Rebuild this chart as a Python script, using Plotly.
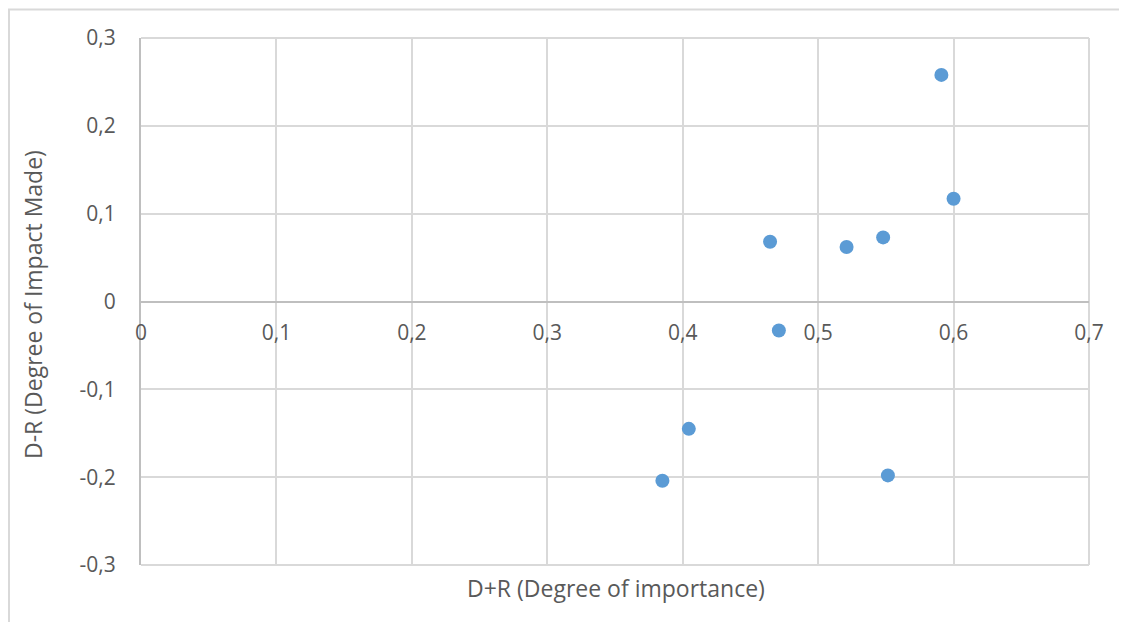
import plotly.graph_objects as go

# Data
dr_importance = [0.591, 0.600, 0.4645, 0.521, 0.548, 0.471, 0.4045, 0.385, 0.5515]
dr_impact = [0.258, 0.117, 0.068, 0.062, 0.073, -0.033, -0.145, -0.204, -0.198]

x_tickvals = [0, 0.1, 0.2, 0.3, 0.4, 0.5, 0.6, 0.7]
x_ticktext = ["0", "0,1", "0,2", "0,3", "0,4", "0,5", "0,6", "0,7"]
y_tickvals = [-0.3, -0.2, -0.1, 0, 0.1, 0.2, 0.3]
y_ticktext = ["-0,3", "-0,2", "-0,1", "0", "0,1", "0,2", "0,3"]

x_title = "D+R (Degree of importance)"
y_title = "D-R (Degree of Impact Made)"

FONT = "Open Sans"
TXT = "#595959"
GRID = "#D9D9D9"
AXIS = "#BFBFBF"

fig = go.Figure()
fig.add_trace(go.Scatter(
    x=dr_importance, y=dr_impact, mode="markers",
    marker=dict(size=14, color="#5B9BD5", line=dict(width=0)),
    showlegend=False, hoverinfo="x+y",
))

# The page body adds an 8px offset; target page coordinates are converted.
OFF = 8
W, H = 1111, 614
L, T = 141 - OFF, 38 - OFF
pw, ph = 1089 - 141, 565 - 38
R = W - L - pw
B = H - T - ph

def px_x(p):
    return (p - OFF - L) / pw

def px_y(p):
    return (T + ph - (p - OFF)) / ph

fig.update_layout(
    width=W, height=H,
    margin=dict(l=L, r=R, t=T, b=B, autoexpand=False),
    paper_bgcolor="white", plot_bgcolor="white",
    font=dict(family=FONT, size=21, color=TXT),
    xaxis=dict(
        range=[0, 0.7], tickvals=x_tickvals, ticktext=x_ticktext,
        showgrid=True, gridcolor=GRID, gridwidth=2,
        zeroline=False, showline=True, linecolor=AXIS, linewidth=2,
        anchor="free", position=0.5, ticks="", ticklabelstandoff=12,
        tickfont=dict(size=21, color=TXT), fixedrange=True,
    ),
    yaxis=dict(
        range=[-0.3, 0.3], tickvals=y_tickvals, ticktext=y_ticktext,
        showgrid=True, gridcolor=GRID, gridwidth=2,
        zeroline=False, showline=True, linecolor=AXIS, linewidth=2,
        ticks="", ticklabelstandoff=19,
        tickfont=dict(size=21, color=TXT), fixedrange=True,
    ),
    shapes=[
        dict(type="rect", xref="paper", yref="paper",
             x0=px_x(9), x1=px_x(1160), y0=px_y(660), y1=px_y(9.5),
             line=dict(color=GRID, width=2), fillcolor="rgba(0,0,0,0)", layer="below"),
        dict(type="line", xref="paper", yref="paper",
             x0=0, x1=1, y0=1, y1=1, line=dict(color=GRID, width=2), layer="below"),
        dict(type="line", xref="paper", yref="paper",
             x0=0, x1=1, y0=0, y1=0, line=dict(color=GRID, width=2), layer="below"),
        dict(type="line", xref="paper", yref="paper",
             x0=1, x1=1, y0=0, y1=1, line=dict(color=GRID, width=2), layer="below"),
    ],
    annotations=[
        dict(text=x_title, xref="paper", yref="paper", x=px_x(616), y=px_y(588),
             showarrow=False, xanchor="center", yanchor="middle",
             font=dict(size=23, color=TXT, family=FONT)),
        dict(text=y_title, xref="paper", yref="paper", x=px_x(33), y=px_y(305),
             showarrow=False, xanchor="center", yanchor="middle", textangle=-90,
             font=dict(size=23, color=TXT, family=FONT)),
    ],
)

fig.write_html("out.html")
